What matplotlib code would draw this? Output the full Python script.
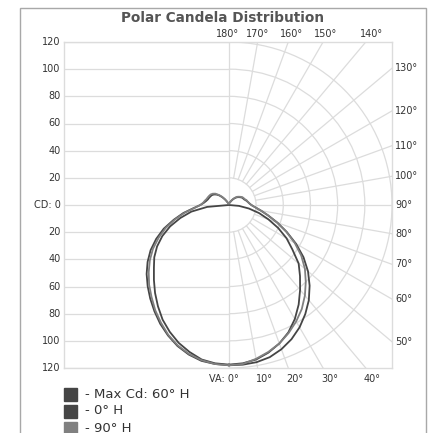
import numpy as np
import matplotlib
matplotlib.use("Agg")
import matplotlib.pyplot as plt
from matplotlib.patches import Arc, Rectangle

# vertical angles (deg from nadir) and candela values
angles = np.arange(0, 181, 5)

cd_0h_right = [117.5, 117, 115.5, 112.5, 108.5, 103.5, 97, 89.5, 81.5, 74, 67, 57, 49, 40,
               31, 23, 15, 7.5, 0, 0, 0, 0, 0, 0, 0, 0, 0, 0, 0, 0, 0, 0, 0, 0, 0, 0, 0]
cd_0h_left = [117.5, 117, 115.5, 112, 108, 103, 97.5, 91, 84.5, 78, 72, 67, 61, 54,
              46, 37, 28, 16, 0, 0, 0, 0, 0, 0, 0, 0, 0, 0, 0, 0, 0, 0, 0, 0, 0, 0, 0]

cd_max_right = [118, 118, 117.5, 116, 113, 109, 104, 98, 91.5, 84, 76, 67, 57, 47,
                38, 30, 24, 19.5, 16.5, 15, 14, 13, 12, 11.5, 11, 10, 9, 8, 6.5, 5,
                3.5, 2.5, 2, 1.5, 1, 1, 1]
cd_max_left = [118, 117.5, 116.5, 114, 110.5, 106, 101, 95.5, 90, 84.5, 79, 73, 66.5, 59,
               51, 42, 34, 26, 21, 18.5, 17, 16, 15.5, 15, 14.5, 13.5, 12, 10, 7.5, 5,
               3, 2, 1.5, 1, 1, 1, 1]

cd_90h_right = [118, 117.5, 115, 112, 108.5, 104, 99, 93.5, 87, 80, 73, 65, 56, 46.5,
                37.5, 30, 24, 19.5, 16.5, 15, 14, 13.5, 12.5, 12, 11.5, 10.5, 9.5, 8.5, 7,
                5.5, 4, 2.5, 2, 1.5, 1, 1, 1]
cd_90h_left = [118, 117.5, 116, 113.5, 110, 105.5, 100, 94.5, 88.5, 83, 77, 71, 64.5, 57,
               49.5, 41, 33, 25.5, 21, 19, 18, 17, 16.5, 16, 15.5, 14.5, 13, 10.5, 8, 5.5,
               3.5, 2, 1.5, 1, 1, 1, 1]

series_names = ["- Max Cd: 60\u00b0 H", "- 0\u00b0 H", "- 90\u00b0 H"]
series_colors = ["#454545", "#454545", "#808080"]

y_ticks = [120, 100, 80, 60, 40, 20, 0, -20, -40, -60, -80, -100, -120]
y_labels = ["120", "100", "80", "60", "40", "20", "CD: 0", "20", "40", "60", "80", "100", "120"]
rings = [20, 40, 60, 80, 100, 120]

W, H = 430, 433
PX = 1.36  # pixels per candela
grid_c = "#dcdcdc"
text_c = "#333333"


def fig_xy(x, y):
    return x / W, 1 - y / H


fig = plt.figure(figsize=(W / 100, H / 100), dpi=100)
fig.patches.append(Rectangle(fig_xy(20, 445), 406 / W, 437 / H, transform=fig.transFigure,
                             fill=False, edgecolor="#a8a8a8", lw=1))

ax = fig.add_axes([64 / W, 65 / H, 328 / W, 326 / H])
x0, x1, y0, y1 = -121.3, 120, -120, 120
ax.set_xlim(x0, x1)
ax.set_ylim(y0, y1)
ax.set_xticks([])
ax.set_yticks([])
for s in ax.spines.values():
    s.set_color(grid_c)
    s.set_linewidth(1)

# grid: horizontal lines on the left half, rings and radial lines on the right half
for yv in y_ticks:
    ax.plot([x0, 0], [yv, yv], color=grid_c, lw=0.9, zorder=1)
ax.plot([0, 0], [y0, y1], color=grid_c, lw=0.9, zorder=1)
for r in rings:
    ax.add_patch(Arc((0, 0), 2 * r, 2 * r, theta1=-90, theta2=90, color=grid_c, lw=0.9, zorder=1))
for a in range(10, 180, 10):
    t = np.radians(a)
    ax.plot([20 * np.sin(t), 250 * np.sin(t)], [-20 * np.cos(t), -250 * np.cos(t)],
            color=grid_c, lw=0.9, zorder=1)

# curves
th = np.radians(angles)
curves = [(cd_max_right, cd_max_left), (cd_0h_right, cd_0h_left), (cd_90h_right, cd_90h_left)]
order = [2, 0, 1]
for i in order:
    right, left = curves[i]
    right = np.array(right)
    left = np.array(left)
    xs = np.concatenate([right * np.sin(th), -left[::-1] * np.sin(th[::-1])])
    ys = np.concatenate([-right * np.cos(th), -left[::-1] * np.cos(th[::-1])])
    ax.plot(xs, ys, color=series_colors[i], lw=1.3, zorder=3 + i, solid_joinstyle="round")

fs = 7
# left labels
for yv, lab in zip(y_ticks, y_labels):
    ax.text(x0 - 3.5 / PX, yv, lab, ha="right", va="center", fontsize=fs, color=text_c,
            clip_on=False)
# right labels
for a in range(50, 131, 10):
    t = np.radians(a)
    ax.text(x1 + 3 / PX, -x1 * np.cos(t) / np.sin(t), f"{a}\u00b0", ha="left", va="center",
            fontsize=fs, color=text_c, clip_on=False)
# top labels
for a, off in zip(range(180, 139, -10), [-1, 0, 3, 3, 6]):
    t = np.radians(a)
    ax.text(-y1 * np.tan(t) + off / PX, y1 + 8 / PX, f"{a}\u00b0", ha="center",
            va="center", fontsize=fs, color=text_c, clip_on=False)
# bottom labels
for a in range(0, 41, 10):
    t = np.radians(a)
    xb = -y0 * np.tan(t)
    if a == 0:
        ax.text(xb + 10 / PX, y0 - 11 / PX, "VA: 0\u00b0", ha="right", va="center",
                fontsize=fs, color=text_c, clip_on=False)
    else:
        ax.text(xb - 2 / PX, y0 - 11 / PX, f"{a}\u00b0", ha="left", va="center",
                fontsize=fs, color=text_c, clip_on=False)

fig.text(*fig_xy(223, 18), "Polar Candela Distribution", ha="center", va="center",
         fontsize=9.8, weight="bold", color="#555555")

# legend
for k, (name, col) in enumerate(zip(series_names, series_colors)):
    yc = 394 + 17 * k
    fig.patches.append(Rectangle(fig_xy(64, yc + 6.5), 13 / W, 13 / H,
                                 transform=fig.transFigure, color=col))
    fig.text(*fig_xy(85, yc), name, ha="left", va="center", fontsize=9.5, color=text_c)

fig.savefig("out.png", dpi=100)
